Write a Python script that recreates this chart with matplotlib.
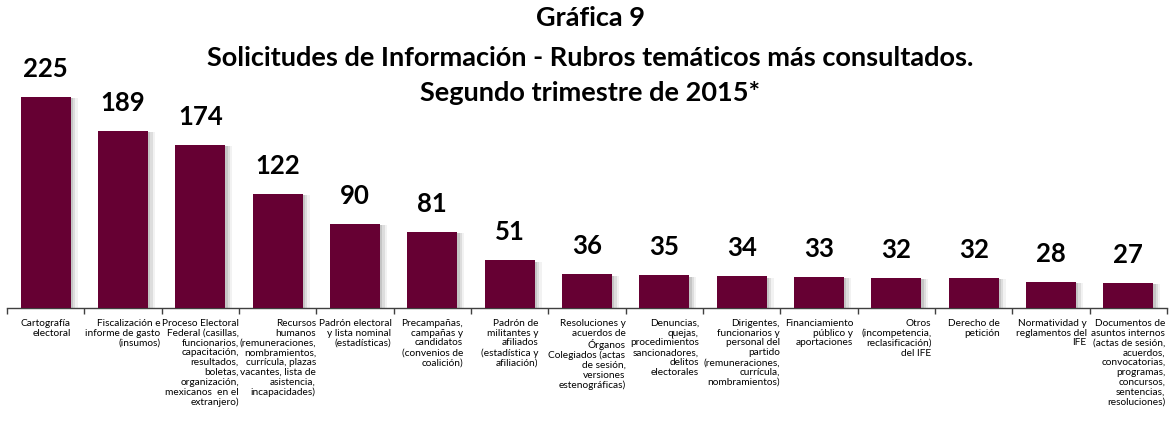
import matplotlib
matplotlib.use("Agg")
import matplotlib.pyplot as plt
import numpy as np

categories = [
    "Cartografía\nelectoral",
    "Fiscalización e\ninforme de gasto\n(insumos)",
    "Proceso Electoral\nFederal (casillas,\nfuncionarios,\ncapacitación,\nresultados,\nboletas,\norganización,\nmexicanos  en el\nextranjero)",
    "Recursos\nhumanos\n(remuneraciones,\nnombramientos,\ncurrícula, plazas\nvacantes, lista de\nasistencia,\nincapacidades)",
    "Padrón electoral\ny lista nominal\n(estadísticas)",
    "Precampañas,\ncampañas y\ncandidatos\n(convenios de\ncoalición)",
    "Padrón de\nmilitantes y\nafiliados\n(estadística y\nafiliación)",
    "Resoluciones y\nacuerdos de\nÓrganos\nColegiados (actas\nde sesión,\nversiones\nestenográficas)",
    "Denuncias,\nquejas,\nprocedimientos\nsancionadores,\ndelitos\nelectorales",
    "Dirigentes,\nfuncionarios y\npersonal del\npartido\n(remuneraciones,\ncurrícula,\nnombramientos)",
    "Financiamiento\npúblico y\naportaciones",
    "Otros\n(incompetencia,\nreclasificación)\ndel IFE",
    "Derecho de\npetición",
    "Normatividad y\nreglamentos del\nIFE",
    "Documentos de\nasuntos internos\n(actas de sesión,\nacuerdos,\nconvocatorias,\nprogramas,\nconcursos,\nsentencias,\nresoluciones)",
]
values = [225, 189, 174, 122, 90, 81, 51, 36, 35, 34, 33, 32, 32, 28, 27]
title_lines = ["Gráfica 9",
               "Solicitudes de Información - Rubros temáticos más consultados.",
               "Segundo trimestre de 2015*"]

W, H = 1171, 435
fig = plt.figure(figsize=(W / 100, H / 100), dpi=100)
ax = fig.add_axes([7 / W, (H - 309) / H, 1160 / W, 309 / H])

x = np.arange(len(values))
bar_color = "#660033"
width = 0.65

# soft shadow
for off, a in [(0.03, 0.25), (0.06, 0.18), (0.09, 0.1)]:
    ax.bar(x + off, [v - 1.5 for v in values], width=width, color="#808080",
           alpha=a, zorder=1, linewidth=0)
ax.bar(x, values, width=width, color=bar_color, zorder=3, linewidth=0)

for xi, v in zip(x, values):
    ax.annotate(str(v), (xi, v), xytext=(0, 15), textcoords="offset points",
                ha="center", va="baseline", fontsize=18.5, fontweight="bold",
                family="Lato", color="#000000")

ax.set_xlim(-0.5, len(values) - 0.5)
ax.set_ylim(0, 309 / ((309 - 98) / 225))

for s in ["top", "right", "left"]:
    ax.spines[s].set_visible(False)
ax.spines["bottom"].set_color("#404040")
ax.spines["bottom"].set_linewidth(1.0)
ax.set_yticks([])
ax.set_xticks(np.arange(len(values) + 1) - 0.5)
ax.set_xticklabels([])
ax.tick_params(axis="x", direction="out", length=4, color="#404040", width=1)

for xi, lab in zip(x, categories):
    ax.annotate(lab, (xi, 0), xytext=(0, -7), textcoords="offset points",
                ha="center", va="top", multialignment="right",
                fontsize=7.3, family="Lato", color="#000000",
                linespacing=1.12, annotation_clip=False)

ys = [18, 58, 93]
for t, y in zip(title_lines, ys):
    fig.text(590 / W, 1 - y / H, t, ha="center", va="center", fontsize=19.5,
             fontweight="bold", family="Lato", color="#000000")

fig.savefig("out.png", dpi=100, facecolor="white")
